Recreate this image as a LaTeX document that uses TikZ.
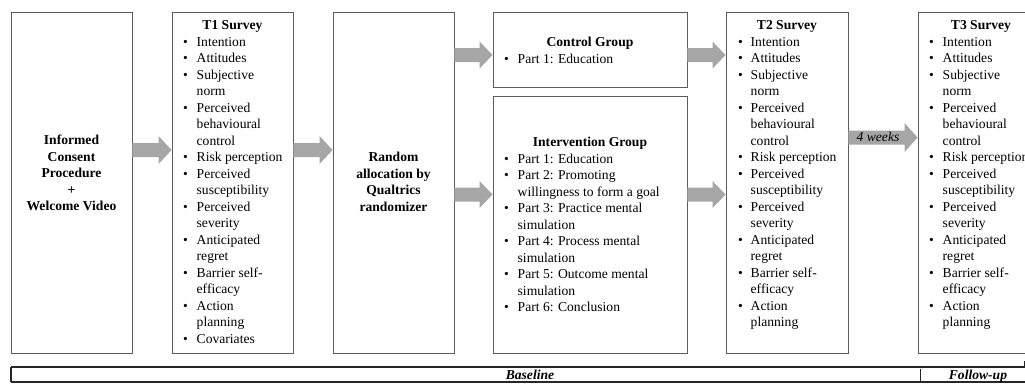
\documentclass[tikz,border=0pt]{standalone}
\usepackage{fontspec}
\setmainfont{Liberation Serif}
\usetikzlibrary{calc}
\definecolor{boxline}{HTML}{5C5C5C}
\definecolor{arrowgray}{HTML}{A6A6A6}
\newcommand{\bi}{\textbullet &}
\newcommand{\fatarrow}[5]{% from, to, y, shaft half, head half
  \fill[arrowgray] let \p1=(#1.east), \p2=(#2.west) in
    (\x1,{-(#3-#4)*1pt}) -- ({\x2-13pt},{-(#3-#4)*1pt}) -- ({\x2-13pt},{-(#3-#5)*1pt})
    -- (\x2,{-(#3)*1pt}) -- ({\x2-13pt},{-(#3+#5)*1pt}) -- ({\x2-13pt},{-(#3+#4)*1pt})
    -- (\x1,{-(#3+#4)*1pt}) -- cycle;}
\begin{document}
\begin{tikzpicture}[x=1pt,y=-1pt,
  box/.style={draw=boxline, line width=0.9pt, rectangle, inner sep=0pt},
  txt/.style={inner sep=0pt, font=\fontsize{13.6}{16.5}\selectfont},
  ttl/.style={txt, anchor=base, font=\fontsize{13.6}{16.5}\selectfont\bfseries},
  lst/.style={txt, anchor=base west},
  barline/.style={draw=black!85, line width=1.3pt}]
\useasboundingbox (0,0) rectangle (1025,384);
\clip (0,0) rectangle (1025,384);
% boxes
\node[box, minimum width=121, minimum height=341] (b1) at (71.5,182.5) {};
\node[box, minimum width=121, minimum height=341] (t1) at (232.5,182.5) {};
\node[box, minimum width=121, minimum height=341] (rnd) at (393.5,182.5) {};
\node[box, minimum width=194, minimum height=75] (ctl) at (590,49.5) {};
\node[box, minimum width=194, minimum height=257] (itv) at (590,224.5) {};
\node[box, minimum width=122, minimum height=341] (t2) at (787,182.5) {};
\node[box, minimum width=127, minimum height=341] (t3) at (981.5,182.5) {};
% box 1 text
\node[txt, anchor=base, font=\fontsize{13.6}{16.5}\selectfont\bfseries] (b1text) at (71.5,144.5)
  {\begin{tabular}[t]{@{}c@{}}Informed\\Consent\\Procedure\\+\\Welcome Video\end{tabular}};
% random text
\node[txt, anchor=base, font=\fontsize{13.6}{16.5}\selectfont\bfseries] (rndtext) at (393.5,161.5)
  {\begin{tabular}[t]{@{}c@{}}Random\\allocation by\\Qualtrics\\randomizer\end{tabular}};
% T1
\node[ttl] (t1title) at (232.5,29.5) {T1 Survey};
\node[lst] (t1list) at (183,46)
  {\begin{tabular}[t]{@{}p{13.5pt}@{}l@{}}
  \bi Intention\\ \bi Attitudes\\ \bi Subjective\\ & norm\\ \bi Perceived\\ & behavioural\\ & control\\
  \bi Risk perception\\ \bi Perceived\\ & susceptibility\\ \bi Perceived\\ & severity\\
  \bi Anticipated\\ & regret\\ \bi Barrier self-\\ & efficacy\\ \bi Action\\ & planning\\ \bi Covariates
  \end{tabular}};
% Control
\node[ttl] (ctltitle) at (590,46.5) {Control Group};
\node[lst] (ctllist) at (504,63)
  {\begin{tabular}[t]{@{}p{13.5pt}@{}l@{}}\bi Part 1: Education\end{tabular}};
% Intervention
\node[ttl] (itvtitle) at (590,146.5) {Intervention Group};
\node[lst] (itvlist) at (504,163)
  {\begin{tabular}[t]{@{}p{13.5pt}@{}l@{}}
  \bi Part 1: Education\\ \bi Part 2: Promoting\\ & willingness to form a goal\\
  \bi Part 3: Practice mental\\ & simulation\\ \bi Part 4: Process mental\\ & simulation\\
  \bi Part 5: Outcome mental\\ & simulation\\ \bi Part 6: Conclusion
  \end{tabular}};
% T2
\node[ttl] (t2title) at (787,29.5) {T2 Survey};
\node[lst] (t2list) at (738,46)
  {\begin{tabular}[t]{@{}p{12.5pt}@{}l@{}}
  \bi Intention\\ \bi Attitudes\\ \bi Subjective\\ & norm\\ \bi Perceived\\ & behavioural\\ & control\\
  \bi Risk perception\\ \bi Perceived\\ & susceptibility\\ \bi Perceived\\ & severity\\
  \bi Anticipated\\ & regret\\ \bi Barrier self-\\ & efficacy\\ \bi Action\\ & planning
  \end{tabular}};
% T3
\node[ttl] (t3title) at (981,29.5) {T3 Survey};
\node[lst] (t3list) at (929,46)
  {\begin{tabular}[t]{@{}p{13.5pt}@{}l@{}}
  \bi Intention\\ \bi Attitudes\\ \bi Subjective\\ & norm\\ \bi Perceived\\ & behavioural\\ & control\\
  \bi Risk perception\\ \bi Perceived\\ & susceptibility\\ \bi Perceived\\ & severity\\
  \bi Anticipated\\ & regret\\ \bi Barrier self-\\ & efficacy\\ \bi Action\\ & planning
  \end{tabular}};
% arrows
\fatarrow{b1}{t1}{150}{7}{14}
\fatarrow{t1}{rnd}{150}{7}{14}
\fatarrow{rnd}{ctl}{55}{7}{13.5}
\fatarrow{rnd}{itv}{194.5}{7}{13.5}
\fatarrow{ctl}{t2}{55}{7}{13.5}
\fatarrow{itv}{t2}{194.5}{7}{13.5}
\fatarrow{t2}{t3}{137.5}{7}{14.5}
\node[txt, anchor=base, font=\fontsize{13.6}{16.5}\selectfont\itshape] (weeks) at (878,141.5) {4 weeks};
% bottom bar
\draw[barline] (11,367) -- (1030,367);
\draw[barline] (11,382) -- (1030,382);
\draw[barline] (11,367) -- (11,382);
\draw[draw=black!85, line width=1pt] (920,369) -- (920,382);
\draw[draw=black!85, line width=1pt] (1024,361) -- (1024,367);
\node[txt, anchor=base, font=\fontsize{13.6}{16.5}\selectfont\bfseries\itshape] (base) at (530,379.5) {Baseline};
\node[txt, anchor=base, font=\fontsize{13.6}{16.5}\selectfont\bfseries\itshape] (follow) at (978,379.5) {Follow-up};
\end{tikzpicture}
\end{document}
